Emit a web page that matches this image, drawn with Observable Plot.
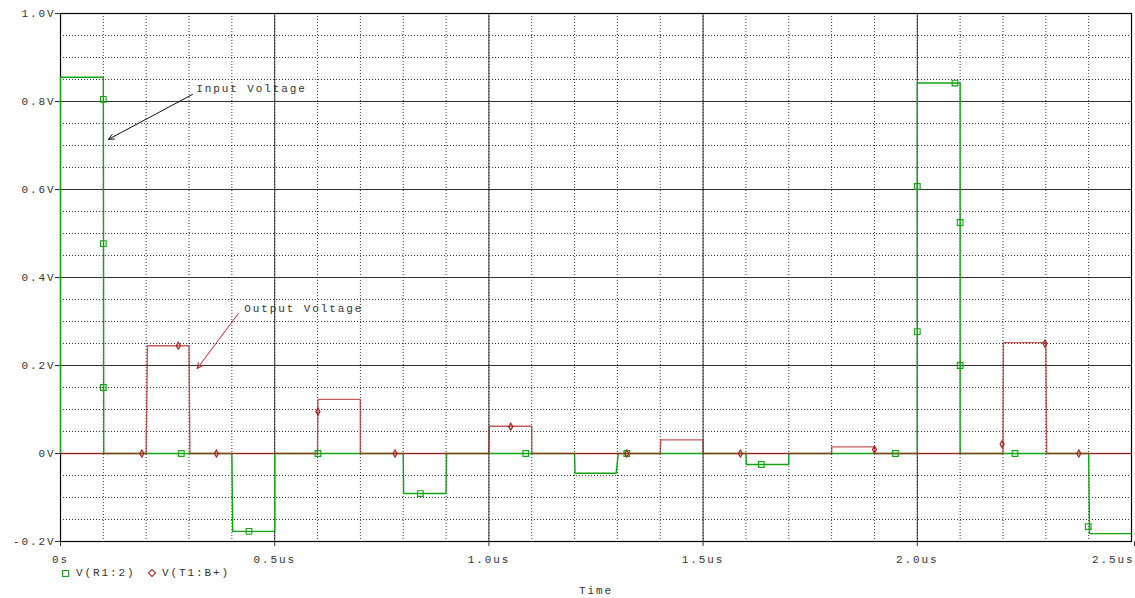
<!DOCTYPE html>
<html>
<head>
<meta charset="utf-8">
<script src="https://cdn.jsdelivr.net/npm/d3@7"></script>
<script src="https://cdn.jsdelivr.net/npm/@observablehq/plot@0.6"></script>
<style>
  body { margin: 0; background: #fff; }
  #chart svg text { letter-spacing: 1.9px; }
  .legend { position: relative; height: 32px; font-family: "Liberation Mono", monospace; font-size: 11px; letter-spacing: 1.9px; color: #333; }
  .legend .item { position: absolute; top: 1px; display: flex; align-items: center; }
  .sq { width: 5px; height: 5px; border: 1px solid #1aa31a; margin-right: 7px; }
  .dm { width: 4px; height: 4px; border: 1px solid #b01c1c; transform: rotate(45deg); margin-right: 7px; margin-left: 1px; }
  .xlabel { position: absolute; left: 0; width: 1192px; text-align: center; top: 19px; }
</style>
</head>
<body>
<div id="chart"></div>
<script>
// ---- data ----
const inputT = [0, 0, 0.1, 0.101, 0.4, 0.402, 0.5, 0.5, 0.8, 0.801, 0.9, 0.901, 1.2, 1.201, 1.297, 1.302, 1.6, 1.601, 1.7, 1.7, 2.0, 2.0, 2.1, 2.1, 2.4, 2.402, 2.5];
const inputV = [0, 0.855, 0.855, 0, 0, -0.177, -0.177, 0, 0, -0.091, -0.091, 0, 0, -0.045, -0.045, 0, 0, -0.025, -0.025, 0, 0, 0.842, 0.842, 0, 0, -0.182, -0.182];
const outputT = [0, 0.2, 0.203, 0.3, 0.302, 0.6, 0.601, 0.7, 0.7, 1.0, 1.001, 1.1, 1.1, 1.4, 1.401, 1.5, 1.5, 1.8, 1.8, 1.9, 1.9, 2.2, 2.201, 2.3, 2.302, 2.5];
const outputV = [0, 0, 0.245, 0.245, 0, 0, 0.123, 0.123, 0, 0, 0.062, 0.062, 0, 0, 0.031, 0.031, 0, 0, 0.015, 0.015, 0, 0, 0.252, 0.252, 0, 0];
// sampled markers
const inputMarkT = [0.1, 0.1, 0.1, 0.282, 0.44, 0.601, 0.84, 1.086, 1.322, 1.636, 1.949, 2.0, 2.0, 2.088, 2.1, 2.1, 2.228, 2.399];
const inputMarkV = [0.805, 0.477, 0.15, 0, -0.177, 0, -0.091, 0, 0, -0.025, 0, 0.607, 0.277, 0.842, 0.525, 0.2, 0, -0.166];
const outputMarkT = [0.19, 0.275, 0.364, 0.601, 0.781, 1.051, 1.322, 1.587, 1.9, 2.198, 2.298, 2.377];
const outputMarkV = [0, 0.245, 0, 0.095, 0, 0.061, 0, 0, 0.009, 0.021, 0.25, 0];
// ticks
const xTicks = [0, 0.5, 1.0, 1.5, 2.0, 2.5];
const xTickLabels = ["0s", "0.5us", "1.0us", "1.5us", "2.0us", "2.5us"];
const yTicks = [-0.2, 0, 0.2, 0.4, 0.6, 0.8, 1.0];
const yTickLabels = ["-0.2V", "0V", "0.2V", "0.4V", "0.6V", "0.8V", "1.0V"];
const xMinor = d3.range(0, 26).map(i => i / 10);
const yMinor = d3.range(-4, 21).map(i => i * 0.05);
// annotations
const annoLabels = ["Input Voltage", "Output Voltage"];
const annoTextT = [0.317, 0.429];
const annoTextV = [0.83, 0.33];
const annoFromT = [0.308, 0.415];
const annoFromV = [0.816, 0.318];
const annoToT = [0.112, 0.319];
const annoToV = [0.714, 0.193];
const annoColors = ["#111", "#c0202a"];

const green = "#13a313";
const red = "#b01c1c";
const mono = "Liberation Mono, monospace";

const inputData = inputT.map((t, i) => ({t, v: inputV[i]}));
const outputData = outputT.map((t, i) => ({t, v: outputV[i]}));
const inMarks = inputMarkT.map((t, i) => ({t, v: inputMarkV[i]}));
const outMarks = outputMarkT.map((t, i) => ({t, v: outputMarkV[i]}));
const annos = annoLabels.map((label, i) => ({label, tx: annoTextT[i], tv: annoTextV[i], x1: annoFromT[i], y1: annoFromV[i], x2: annoToT[i], y2: annoToV[i], c: annoColors[i]}));

const xFmt = d => xTickLabels[xTicks.indexOf(d)];
const yFmt = d => yTickLabels[yTicks.findIndex(y => Math.abs(y - d) < 1e-9)];

const chart = Plot.plot({
  width: 1135,
  height: 566,
  marginTop: 13,
  marginBottom: 25,
  marginLeft: 60,
  marginRight: 4,
  style: {fontFamily: mono, fontSize: "11px", color: "#333", background: "#fff", overflow: "visible"},
  x: {domain: [0, 2.5]},
  y: {domain: [-0.2, 1.0]},
  marks: [
    Plot.gridX(xMinor, {stroke: "#000", strokeOpacity: 0.8, strokeDasharray: "1,2"}),
    Plot.gridY(yMinor, {stroke: "#000", strokeOpacity: 0.8, strokeDasharray: "1,2"}),
    Plot.gridX(xTicks, {stroke: "#222", strokeOpacity: 0.9, strokeWidth: 1}),
    Plot.gridY(yTicks, {stroke: "#222", strokeOpacity: 0.9, strokeWidth: 1}),
    Plot.frame({stroke: "#000", strokeWidth: 1.2}),
    Plot.axisY({ticks: yTicks, tickFormat: yFmt, tickSize: 5, tickPadding: 0, label: null, fontSize: 11}),
    Plot.axisX({ticks: xTicks.slice(0, 5), tickFormat: xFmt, tickSize: 5, tickPadding: 9, label: null, fontSize: 11}),
    Plot.axisX({ticks: [2.5], tickFormat: xFmt, tickSize: 5, tickPadding: 9, label: null, fontSize: 11, textAnchor: "end", dx: 3}),
    Plot.line(inputData, {x: "t", y: "v", stroke: green, strokeWidth: 1.4, curve: "linear"}),
    Plot.line(outputData, {x: "t", y: "v", stroke: red, strokeWidth: 1.4, strokeOpacity: 0.72, curve: "linear"}),
    Plot.dot(inMarks, {x: "t", y: "v", symbol: "square", r: 3.2, stroke: green, strokeWidth: 1.1, fill: "none"}),
    Plot.dot(outMarks, {x: "t", y: "v", symbol: "diamond", r: 2.1, stroke: red, strokeWidth: 1.2, fill: "none"}),
    Plot.arrow(annos, {x1: "x1", y1: "y1", x2: "x2", y2: "y2", stroke: "c", strokeWidth: 1, headLength: 9, headAngle: 50}),
    Plot.text(annos, {x: "tx", y: "tv", text: "label", textAnchor: "start", fill: "#333", fontSize: 11})
  ]
});
document.getElementById("chart").appendChild(chart);

const legend = document.createElement("div");
legend.className = "legend";
legend.innerHTML = `<div class="item" style="left:62px"><div class="sq"></div><span>V(R1:2)</span></div>
<div class="item" style="left:148px"><div class="dm"></div><span>V(T1:B+)</span></div>
<div class="xlabel">Time</div>`;
document.body.appendChild(legend);
</script>
</body>
</html>
